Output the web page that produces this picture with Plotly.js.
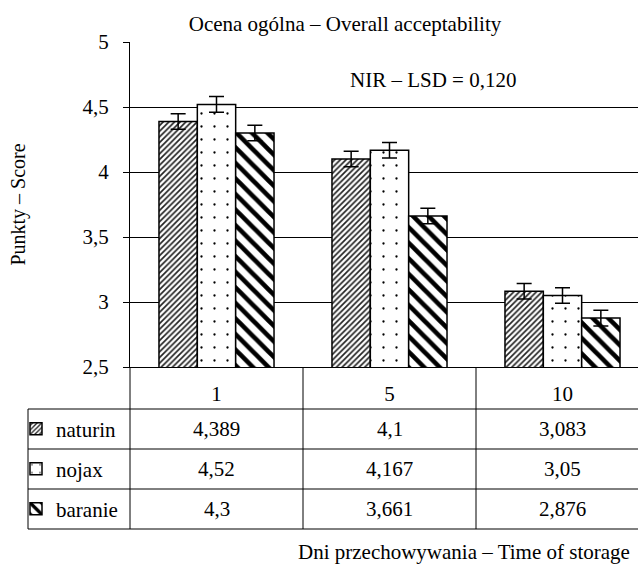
<!DOCTYPE html>
<html>
<head>
<meta charset="utf-8">
<script src="https://cdn.plot.ly/plotly-3.0.1.min.js"></script>
<style>
  html, body { margin: 0; padding: 0; background: #fff; overflow: hidden; }
  #chart { width: 660px; height: 565px; }
</style>
</head>
<body>
<div id="chart"></div>
<script>
// ---- data ----
const days = ['1', '5', '10'];
const seriesNames = ['naturin', 'nojax', 'baranie'];
const naturin = [4.389, 4.1, 3.083];
const nojax = [4.52, 4.167, 3.05];
const baranie = [4.3, 3.661, 2.876];
const errorHalfLSD = 0.06;
const yTickVals = [2.5, 3, 3.5, 4, 4.5, 5];
const chartTitle = 'Ocena ogólna – Overall acceptability';
const yTitle = 'Punkty – Score';
const xTitle = 'Dni przechowywania – Time of storage';
const lsdLabel = 'NIR – LSD = 0,120';

// ---- layout helpers ----
const W = 660, H = 565;
const M = { l: 130, r: 11, t: 42, b: 198 };
const PW = W - M.l - M.r, PH = H - M.t - M.b;
const plotBottom = M.t + PH;
const px2x = p => (p - M.l) / PW;
const px2y = p => (plotBottom - p) / PH;
const fmt = v => String(v).replace('.', ',');
const FONT = 'Liberation Serif';
const FS = 21;

const allSeries = [naturin, nojax, baranie];
const patterns = [
  { shape: '/', size: 4, solidity: 0.42, fgcolor: '#222', bgcolor: '#fff' },
  { shape: '.', size: 13, solidity: 0.025, fgcolor: '#000', bgcolor: '#fff' },
  { shape: '\\', size: 11, solidity: 0.42, fgcolor: '#000', bgcolor: '#fff' }
];
const legendIds = ['legend', 'legend2', 'legend3'];

// table row boundaries (pixels)
const rowLines = [409, 449, 489, 529];

const traces = allSeries.map((vals, i) => ({
  type: 'bar',
  name: seriesNames[i],
  x: days,
  y: vals,
  legend: legendIds[i],
  marker: {
    color: '#fff',
    pattern: patterns[i],
    line: { color: '#000', width: 1.5 }
  },
  error_y: {
    type: 'constant', value: errorHalfLSD, visible: true,
    color: '#000', thickness: 1.5, width: 7.5
  },
  hoverinfo: 'skip'
}));

const shapes = [];
const lineStyle = { color: '#000', width: 1 };
// horizontal table lines
rowLines.forEach(py => {
  shapes.push({ type: 'line', xref: 'paper', yref: 'paper',
    x0: px2x(28), x1: 1, y0: px2y(py), y1: px2y(py), line: lineStyle });
});
// left border of legend column
shapes.push({ type: 'line', xref: 'paper', yref: 'paper',
  x0: px2x(28), x1: px2x(28), y0: px2y(rowLines[0]), y1: px2y(rowLines[3]), line: lineStyle });
// category dividers
for (let i = 0; i <= days.length; i++) {
  shapes.push({ type: 'line', xref: 'x domain', yref: 'paper',
    x0: i / days.length, x1: i / days.length, y0: 0, y1: px2y(rowLines[3]), line: lineStyle });
}

const annotations = [];
allSeries.forEach((vals, r) => {
  const yc = px2y((rowLines[r] + rowLines[r + 1]) / 2);
  vals.forEach((v, i) => {
    annotations.push({ xref: 'x', yref: 'paper', x: i, y: yc,
      text: fmt(v), showarrow: false, xanchor: 'center', yanchor: 'middle',
      font: { family: FONT, size: FS, color: '#000' } });
  });
});
annotations.push({ xref: 'paper', yref: 'paper', x: px2x(433), y: px2y(80),
  text: lsdLabel, showarrow: false, xanchor: 'center', yanchor: 'middle',
  font: { family: FONT, size: FS, color: '#000' } });
annotations.push({ xref: 'paper', yref: 'paper', x: px2x(296), y: px2y(552),
  text: xTitle, showarrow: false, xanchor: 'left', yanchor: 'middle',
  font: { family: FONT, size: FS, color: '#000' } });

const layout = {
  width: W, height: H,
  margin: M,
  paper_bgcolor: '#fff', plot_bgcolor: '#fff',
  separators: ', ',
  font: { family: FONT, size: FS, color: '#000' },
  title: {
    text: chartTitle, xref: 'container', yref: 'container',
    x: 345 / W, y: 1 - 24 / H, xanchor: 'center', yanchor: 'middle',
    font: { family: FONT, size: FS, color: '#000' }
  },
  barmode: 'group', bargap: 0.335, bargroupgap: 0,
  xaxis: {
    type: 'category', categoryorder: 'array', categoryarray: days,
    range: [-0.5, days.length - 0.5],
    showline: true, linecolor: '#000', linewidth: 1,
    ticks: '', showgrid: false, zeroline: false,
    ticklabelstandoff: 8,
    tickfont: { family: FONT, size: FS, color: '#000' },
    fixedrange: true
  },
  yaxis: {
    range: [2.5, 5], tickvals: yTickVals,
    showline: true, linecolor: '#000', linewidth: 1,
    ticks: 'outside', ticklen: 6, tickcolor: '#000', tickwidth: 1,
    ticklabelstandoff: 10,
    showgrid: true, gridcolor: '#000', gridwidth: 1, zeroline: false,
    tickfont: { family: FONT, size: FS, color: '#000' },
    title: { text: yTitle, standoff: 51, font: { family: FONT, size: 20, color: '#000' } },
    automargin: false,
    fixedrange: true
  },
  shapes: shapes,
  annotations: annotations,
  showlegend: true
};
legendIds.forEach((id, r) => {
  layout[id] = {
    x: px2x(16), xanchor: 'left',
    y: px2y((rowLines[r] + rowLines[r + 1]) / 2), yanchor: 'middle',
    bgcolor: 'rgba(0,0,0,0)', borderwidth: 0,
    font: { family: FONT, size: FS, color: '#000' },
    itemclick: false, itemdoubleclick: false
  };
});

Plotly.newPlot('chart', traces, layout, { staticPlot: true, displayModeBar: false });
</script>
</body>
</html>
